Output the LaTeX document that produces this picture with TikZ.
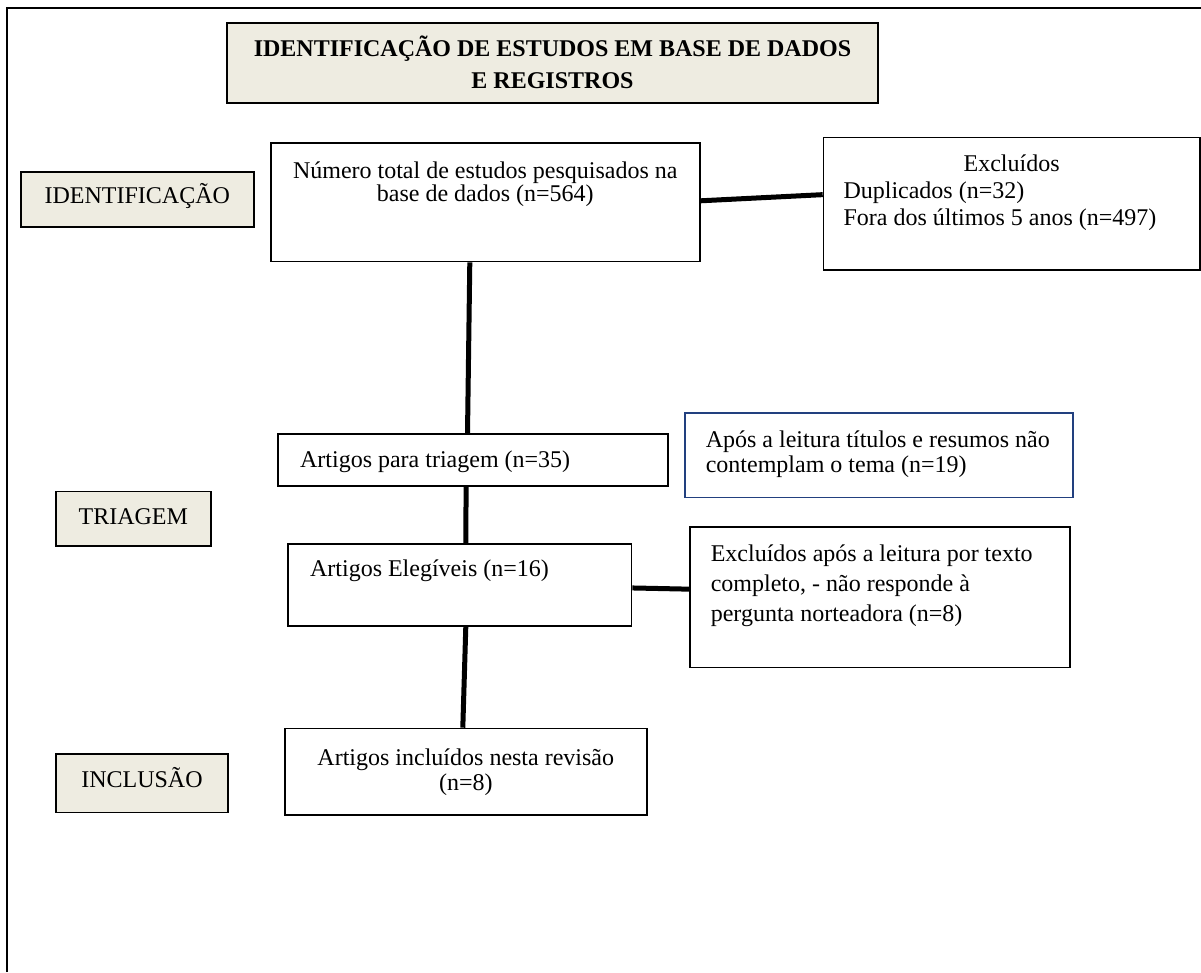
\documentclass[tikz,border=0pt]{standalone}
\usepackage{fontspec}
\setmainfont{Liberation Serif}
\definecolor{beige}{HTML}{EEECE1}
\definecolor{navy}{HTML}{22407F}
% #1 width, #2 height, #3 first-baseline offset, #4 line pitch, #5 alignment, #6 text
\newcommand{\mybx}[6]{\parbox[c][#2pt][t]{#1pt}{\fontsize{24pt}{#4pt}\selectfont\lineskiplimit=-100pt\lineskip=0pt #5\rule{0pt}{#3pt}#6}}
\tikzset{
  boxed/.style={draw, line width=1.6pt, inner sep=0pt, anchor=north west},
  stage/.style={boxed, fill=beige},
  link/.style={line width=5pt},
}
\begin{document}
\begin{tikzpicture}[x=1pt,y=-1pt]
\useasboundingbox (0,0) rectangle (1201,972);
% outer frame
\draw[line width=2.5pt] (7,972) -- (7,8) -- (1201,8);

\node[stage, line width=2pt] (title) at (226,22) {\mybx{651}{80}{33}{32}{\centering\bfseries}{IDENTIFICAÇÃO DE ESTUDOS EM BASE DE DADOS\\E REGISTROS}};
\node[stage] (ident) at (20,171) {\mybx{233}{55}{32}{24}{\centering}{IDENTIFICAÇÃO}};
\node[boxed] (num) at (270,142.3) {\mybx{429}{118.4}{35}{23.5}{\centering}{Número total de estudos pesquisados na\\base de dados (n=564)}};
\node[boxed] (exc) at (822.7,136.7) {\mybx{376.3}{132.3}{34}{27}{}{{\centering Excluídos\par}\raggedright\leftskip=20pt Duplicados (n=32)\\Fora dos últimos 5 anos (n=497)}};
\node[boxed] (tri) at (277.3,433.3) {\mybx{390}{52}{33.4}{24}{\raggedright\leftskip=22pt}{Artigos para triagem (n=35)}};
\node[boxed, draw=navy] (apos) at (684,412.3) {\mybx{388.3}{84.4}{34}{25.5}{\raggedright\leftskip=21pt}{Após a leitura títulos e resumos não\\contemplam o tema (n=19)}};
\node[stage] (triagem) at (55,490.7) {\mybx{155}{54.3}{33}{24}{\centering}{TRIAGEM}};
\node[boxed] (ele) at (287.3,543.3) {\mybx{343.4}{81.7}{32.4}{24}{\raggedright\leftskip=22pt}{Artigos Elegíveis (n=16)}};
\node[boxed] (exc2) at (689,526) {\mybx{380}{140.7}{35}{30}{\raggedright\leftskip=21pt}{Excluídos após a leitura por texto\\completo, - não responde à\\pergunta norteadora (n=8)}};
\node[boxed] (inc) at (284,727.7) {\mybx{362}{86.6}{37.3}{24.5}{\centering}{Artigos incluídos nesta revisão\\(n=8)}};
\node[stage] (inclusao) at (55,753.3) {\mybx{172.3}{58.4}{33.4}{24}{\centering}{INCLUSÃO}};

\draw[link] ([yshift=1.5pt]num.east) -- ([yshift=9pt]exc.west);
\draw[link] ([xshift=-15.5pt]num.south) -- ([xshift=-5.6pt]tri.north);
\draw[link] ([xshift=-7pt]tri.south) -- ([xshift=6pt]ele.north);
\draw[link] ([yshift=-3pt]ele.east) -- ([yshift=8pt]exc2.west);
\draw[link] ([xshift=6pt]ele.south) -- ([xshift=-3pt]inc.north);
\end{tikzpicture}
\end{document}
